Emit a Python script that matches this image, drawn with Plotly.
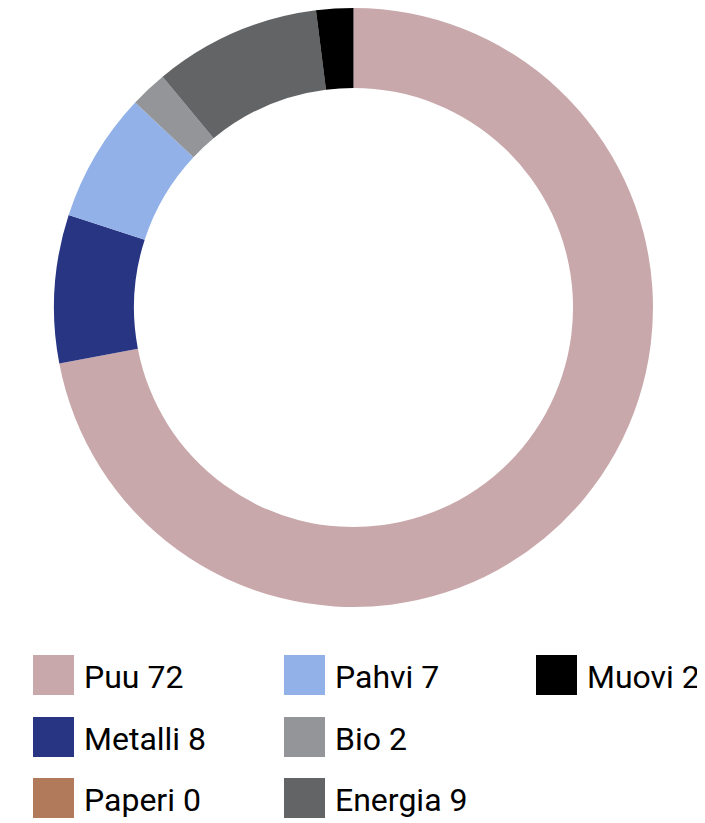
import plotly.graph_objects as go

labels = ["Puu", "Metalli", "Paperi", "Pahvi", "Bio", "Energia", "Muovi"]
values = [72, 8, 0, 7, 2, 9, 2]
colors = ["#c9a8ab", "#283583", "#b07a5b", "#91b1e8", "#939598", "#636466", "#000000"]

# the page body adds an 8px margin, so the figure is a bit smaller
OFF = 8
W, H = 705 - OFF, 823 - OFF


def px(x):
    return (x - OFF) / W


def py(y):
    return 1 - (y - OFF) / H


fig = go.Figure()

fig.add_trace(go.Pie(
    labels=labels,
    values=values,
    sort=False,
    direction="clockwise",
    rotation=0,
    hole=0.733,
    textinfo="none",
    hoverinfo="label+value",
    marker=dict(colors=colors, line=dict(width=0)),
    showlegend=False,
    domain=dict(x=[px(53), px(654)], y=[py(607), py(8)]),
))

# Legend drawn by hand: three columns, filled top to bottom
col_x = [33, 284, 536]
row_y = [655, 717, 778]
box_w, box_h = 41, 40

shapes = []
annotations = []
for i, (lab, val, col) in enumerate(zip(labels, values, colors)):
    c, r = i // 3, i % 3
    x0, y0 = col_x[c], row_y[r]
    shapes.append(dict(
        type="rect", xref="paper", yref="paper",
        x0=px(x0), x1=px(x0 + box_w),
        y0=py(y0), y1=py(y0 + box_h),
        fillcolor=col, line=dict(width=0),
    ))
    annotations.append(dict(
        text=f"{lab} {val}", xref="paper", yref="paper",
        x=px(x0 + box_w + 9), y=py(y0 + box_h / 2 + 2),
        xanchor="left", yanchor="middle", showarrow=False,
        borderpad=0,
        font=dict(family="Roboto", size=32, color="#000000"),
    ))

fig.update_layout(
    width=W,
    height=H,
    margin=dict(l=0, r=0, t=0, b=0),
    paper_bgcolor="white",
    plot_bgcolor="white",
    shapes=shapes,
    annotations=annotations,
)

fig.write_html("out.html")
